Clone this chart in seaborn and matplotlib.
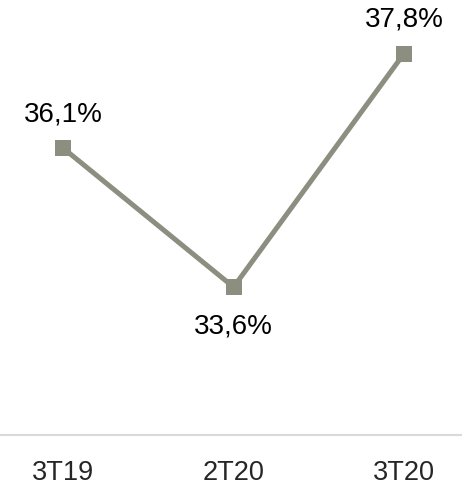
import pandas as pd
import matplotlib
matplotlib.use("Agg")
import matplotlib.pyplot as plt
import seaborn as sns

# data
periods = ["3T19", "2T20", "3T20"]
values = [36.1, 33.6, 37.8]
labels = ["36,1%", "33,6%", "37,8%"]
label_pos = ["above", "below", "above"]

df = pd.DataFrame({"periodo": range(len(periods)), "valor": values})

sns.set_style("white")
plt.rcParams["font.family"] = ["Liberation Sans", "DejaVu Sans"]

color = "#8c8e80"

fig = plt.figure(figsize=(4.62, 4.85), dpi=100)
ax = fig.add_axes([0, 0.101, 1, 0.899])

sns.lineplot(data=df, x="periodo", y="valor", ax=ax, color=color,
             linewidth=3.6, marker="s", markersize=12, markeredgewidth=0)

for i, (v, lab, pos) in enumerate(zip(values, labels, label_pos)):
    off = 25 if pos == "above" else -28
    ax.annotate(lab, (i, v), xytext=(0, off), textcoords="offset points",
                ha="center", va="center", fontsize=20, color="black")

ax.set_xlim(-0.37, 2.34)
ax.set_ylim(30.94, 38.78)
ax.set_xticks(range(len(periods)))
ax.set_xticklabels(periods, fontsize=19.5)
ax.set_yticks([])
ax.set_xlabel("")
ax.set_ylabel("")
ax.tick_params(axis="x", length=0, pad=17.5)

for s in ["top", "left", "right"]:
    ax.spines[s].set_visible(False)
ax.spines["bottom"].set_color("#d9d9d9")
ax.spines["bottom"].set_linewidth(1.5)

fig.savefig("out.png", dpi=100)
